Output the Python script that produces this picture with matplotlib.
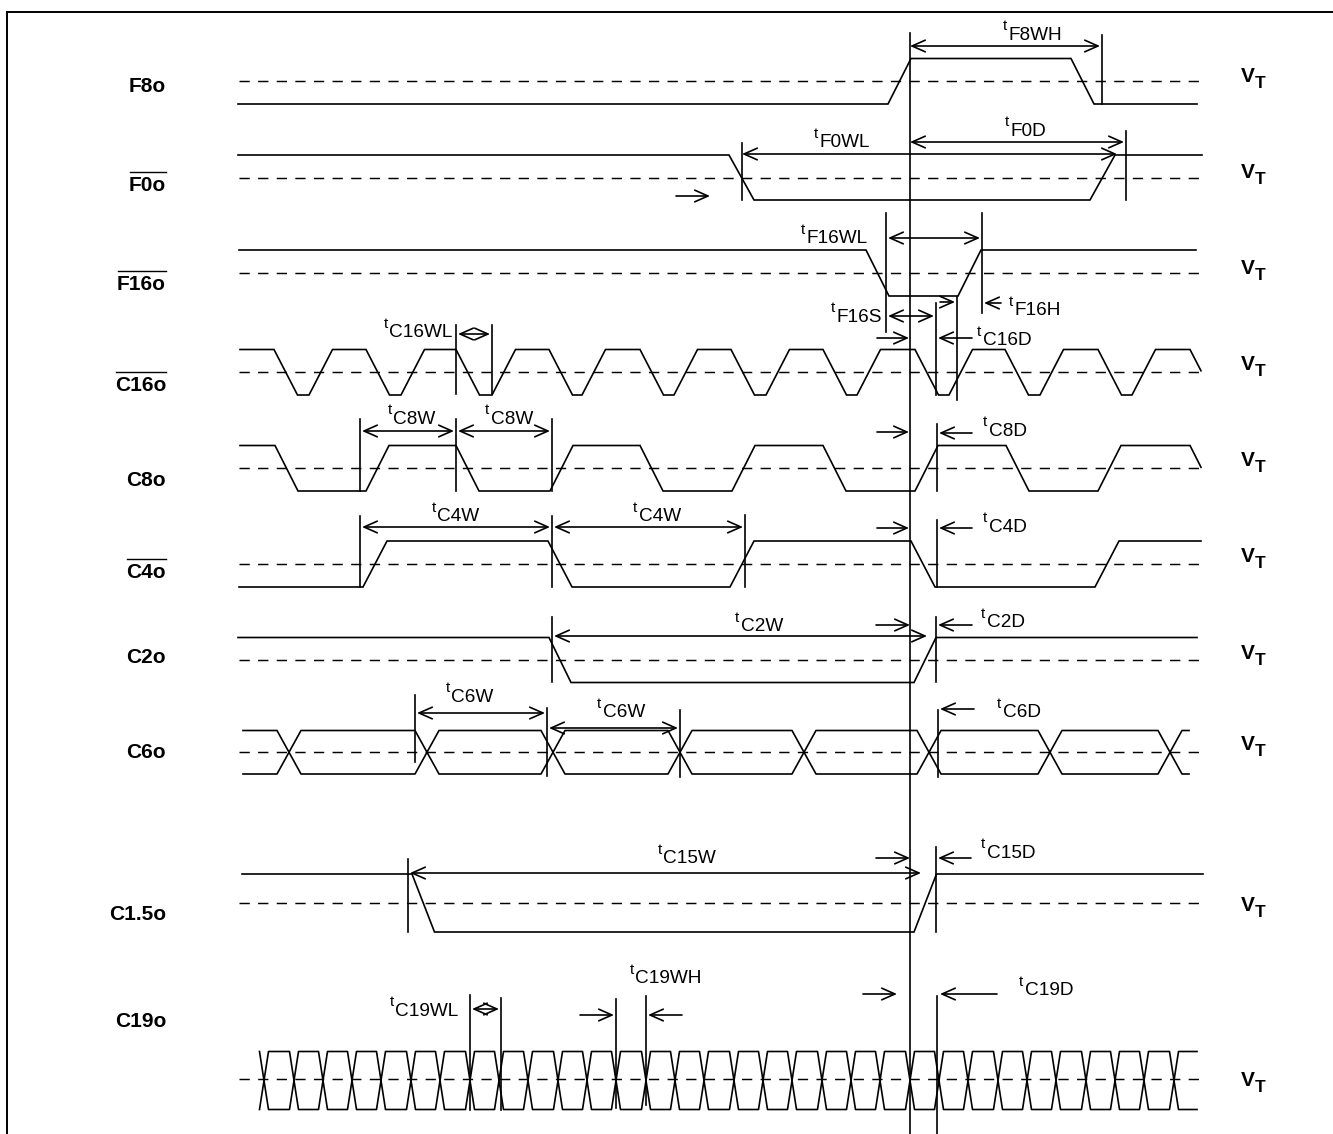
import numpy as np
import matplotlib
matplotlib.use("Agg")
import matplotlib.pyplot as plt
from matplotlib.patches import FancyArrowPatch

plt.rcParams['font.family'] = ['Liberation Sans', 'DejaVu Sans']
plt.rcParams['lines.scale_dashes'] = False

# ---- timing data (time axis in sheet pixels) ----
signal_names = ["F8o", "F0o", "F16o", "C16o", "C8o", "C4o", "C2o", "C6o", "C1.5o", "C19o"]
active_low = ["F0o", "F16o", "C16o", "C4o"]

t_ref = 910
f8_edges = [888, 1071]
f0_edges = [729, 1090]
f16_edges = [866, 958]
c16_edges = [274, 309, 366, 401, 456, 492, 549, 582, 640, 674, 731, 766,
             823, 857, 915, 949, 1005, 1040, 1098, 1132, 1190]
c8_edges = [275, 366, 456, 550, 640, 732, 823, 915, 1006, 1098, 1190]
c4_edges = [363, 548, 730, 911, 1095]
c2_edges = [549, 914]
c15_edges = [412, 914]
c6_cross = [289, 427, 553, 680, 804, 929, 1050, 1170]
c19_cross = [264, 294, 323, 352, 381, 411, 440, 470, 499, 528, 558, 587, 616,
             646, 675, 704, 734, 763, 792, 822, 851, 880, 910, 939, 968, 998,
             1027, 1056, 1086, 1115, 1144, 1174]

# ---- layout: (high y, threshold y, low y, name baseline, VT centre) ----
rows = {
    "F8o":   (58.5, 81, 104, 92, 74),
    "F0o":   (155, 177.5, 200, 191, 170),
    "F16o":  (250, 273, 296, 290, 266),
    "C16o":  (349.5, 372, 395, 391, 362.5),
    "C8o":   (445.5, 467.5, 491, 485.5, 458.7),
    "C4o":   (541, 564, 587, 578, 554.7),
    "C2o":   (637.5, 660, 682.5, 663, 651.7),
    "C6o":   (730.5, 752, 774, 758.5, 743),
    "C1.5o": (874, 903, 932, 920, 903.7),
    "C19o":  (1051.5, 1078.5, 1109.5, 1027, 1078.7),
}

LW = 1.2
fig = plt.figure(figsize=(13.33, 11.34), dpi=100)
ax = fig.add_axes([0, 0, 1, 1])
ax.set_xlim(0, 1333)
ax.set_ylim(1134, 0)
ax.axis('off')


def digital(name, t0, t1, start_high, edges, ramp):
    hi, vt, lo = rows[name][:3]
    lv = start_high
    xs, ys = [t0], [hi if lv else lo]
    for e in edges:
        xs.append(e); ys.append(hi if lv else lo)
        lv = not lv
        xs.append(e + ramp); ys.append(hi if lv else lo)
    xs.append(max(t1, xs[-1])); ys.append(ys[-1])
    xs, ys = np.array(xs, float), np.array(ys, float)
    keep = xs < t1
    xc = np.append(xs[keep], t1)
    yc = np.append(ys[keep], np.interp(t1, xs, ys))
    ax.plot(xc, yc, color='black', lw=LW, solid_joinstyle='miter')


def bus(name, t0, t1, crosses, hw):
    hi, vt, lo = rows[name][:3]
    for first in (hi, lo):
        cur = first
        xs, ys = [], []
        if t0 is not None:
            xs.append(t0); ys.append(cur)
        for c in crosses:
            nxt = lo if cur == hi else hi
            xs += [c - hw, c + hw]
            ys += [cur, nxt]
            cur = nxt
        xs.append(t1); ys.append(cur)
        ax.plot(xs, ys, color='black', lw=LW)


# threshold lines
for name in signal_names:
    vt = rows[name][1]
    ax.plot([239, 1200], [vt, vt], color='black', lw=1.05, linestyle=(0, (7.4, 6.0)))

digital("F8o", 238, 1197, False, f8_edges, 23)
digital("F0o", 238, 1202, True, f0_edges, 25)
digital("F16o", 239, 1196, True, f16_edges, 23)
digital("C16o", 240, 1201, True, c16_edges, 23.5)
digital("C8o", 240, 1201, True, c8_edges, 23)
digital("C4o", 239, 1201, False, c4_edges, 24)
digital("C2o", 238, 1197, True, c2_edges, 22)
bus("C6o", 243, 1189, c6_cross, 12)
digital("C1.5o", 242, 1203, True, c15_edges, 22.5)
bus("C19o", None, 1197, c19_cross, 4.5)

# reference line and frame
ax.plot([t_ref, t_ref], [33, 1134], color='black', lw=LW)
ax.plot([7, 1333], [12, 12], color='black', lw=1.4)
ax.plot([7, 7], [12, 1134], color='black', lw=1.4)

# measurement ticks (x, y top, y bottom)
ticks = [(1102, 35, 104), (742, 143, 200), (1126, 131, 200),
         (886, 213, 332), (982, 213, 313), (936, 303, 395), (957, 297, 400),
         (456, 325, 394), (492, 325, 394),
         (360, 419, 491), (456, 419, 491), (552, 419, 491), (937, 424, 491),
         (360, 516, 587), (552, 516, 587), (745, 515, 587), (937, 520, 587),
         (552, 617, 682), (936, 617, 682),
         (415, 695, 762), (547, 708, 776), (680, 710, 777), (938, 710, 777),
         (408, 859, 932), (936, 847, 932),
         (470, 995, 1110), (501, 998, 1110), (616, 999, 1108), (646, 996, 1105),
         (937, 996, 1134)]
for x, y0, y1 in ticks:
    ax.plot([x, x], [y0, y1], color='black', lw=LW)


def arrow(x0, x1, y, style):
    ap = FancyArrowPatch((x0, y), (x1, y), arrowstyle=style + ',head_length=9.5,head_width=4.2',
                         mutation_scale=1, shrinkA=0, shrinkB=0, color='black', lw=LW)
    ax.add_patch(ap)


both = [(910, 1100, 46), (742, 1117, 154), (910, 1124, 142), (888, 980, 238),
        (888, 934, 316), (458, 490, 334), (362, 454, 431), (458, 550, 431),
        (362, 550, 527), (554, 743, 527), (554, 927, 636), (417, 545, 713),
        (549, 678, 728), (410, 921, 873), (472, 499, 1009)]
for x0, x1, y in both:
    arrow(x0, x1, y, '<->')

single = [(676, 710, 196), (1001, 984, 303), (940, 955, 302),
          (877, 909, 338), (972, 938, 338), (877, 909, 432), (972, 939, 433),
          (877, 909, 528), (972, 939, 528), (876, 910, 625), (972, 938, 625),
          (974, 940, 709), (876, 910, 858), (971, 938, 858),
          (580, 614, 1015), (682, 648, 1015), (863, 897, 994), (997, 940, 994)]
for x0, x1, y in single:
    arrow(x0, x1, y, '->')

# timing parameter labels (left of 't', subscript baseline, subscript)
tlabels = [(1003, 40, "F8WH"), (814, 147, "F0WL"), (1005, 136, "F0D"),
           (801, 243, "F16WL"), (831, 322, "F16S"), (1009, 315, "F16H"),
           (977, 345, "C16D"), (384, 337, "C16WL"), (388, 424, "C8W"),
           (485, 424, "C8W"), (983, 436, "C8D"), (432, 521, "C4W"),
           (633, 521, "C4W"), (983, 532, "C4D"), (735, 631, "C2W"),
           (981, 627, "C2D"), (446, 702, "C6W"), (597, 717, "C6W"),
           (997, 717, "C6D"), (658, 863, "C15W"), (981, 858, "C15D"),
           (630, 983, "C19WH"), (390, 1016, "C19WL"), (1019, 995, "C19D")]
for x, yb, sub in tlabels:
    ax.text(x, yb - 9.5, "t", fontsize=11, ha='left', va='baseline')
    ax.text(x + 5.5, yb, sub, fontsize=13.7, ha='left', va='baseline')

# signal names and VT marks
fig.canvas.draw()
renderer = fig.canvas.get_renderer()
for name in signal_names:
    hi, vt, lo, base, vtc = rows[name]
    t = ax.text(166, base, name, fontsize=15, fontweight='bold', ha='right', va='baseline')
    if name in active_low:
        bb = t.get_window_extent(renderer)
        ax.plot([bb.x0 + 1, bb.x1 - 0.5], [base - 18.8, base - 18.8], color='black', lw=1.0)
    ax.text(1241, vtc + 7.5, "V", fontsize=15, fontweight='bold', ha='left', va='baseline')
    ax.text(1255, vtc + 13.5, "T", fontsize=12.5, fontweight='bold', ha='left', va='baseline')

fig.savefig("out.png", dpi=100)
